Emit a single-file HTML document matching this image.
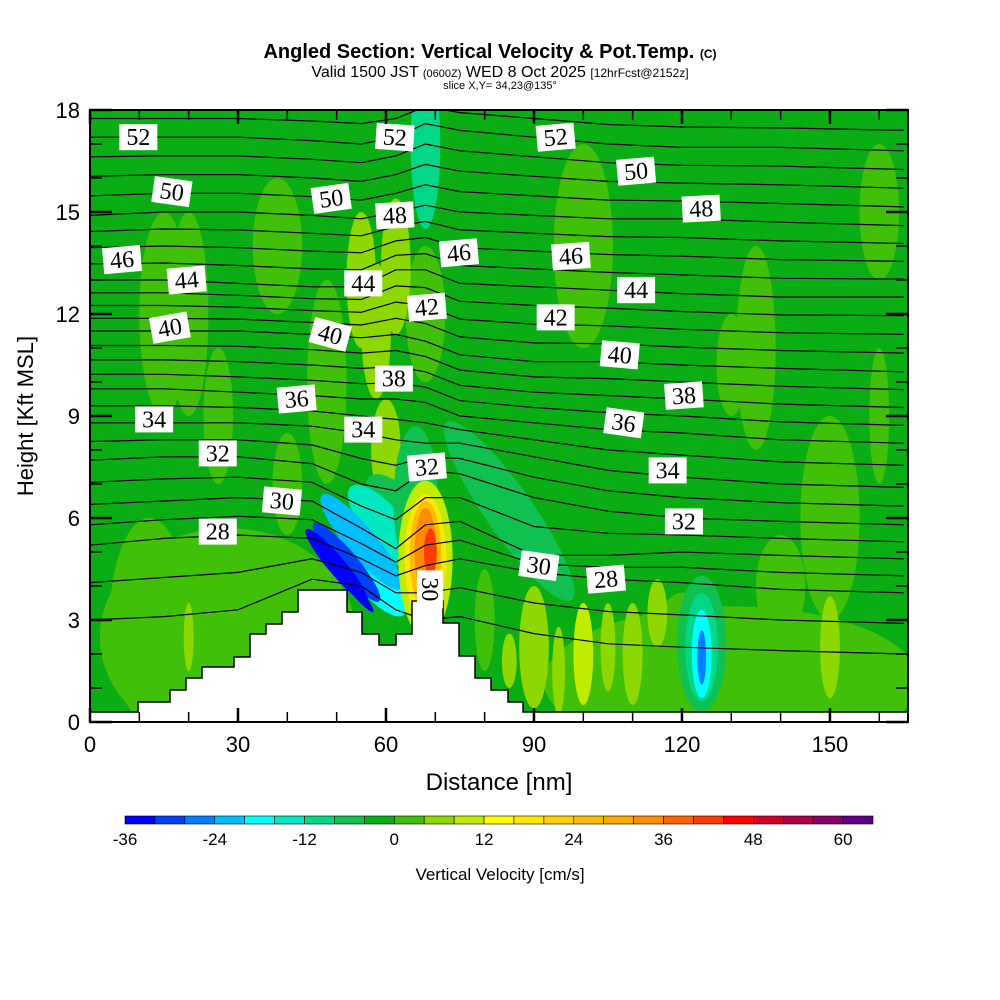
<!DOCTYPE html>
<html><head><meta charset="utf-8">
<style>
body{margin:0;background:#fff;}
svg{display:block;font-family:"Liberation Sans",sans-serif;}
.lbl{font-family:"Liberation Serif",serif;font-size:24px;}
</style></head>
<body>
<svg id="chart" width="1000" height="1000" viewBox="0 0 1000 1000" xmlns="http://www.w3.org/2000/svg">
  <text x="490" y="58" text-anchor="middle" font-size="20" font-weight="bold">Angled Section: Vertical Velocity &amp; Pot.Temp. <tspan font-size="12">(C)</tspan></text>
  <text x="500" y="77" text-anchor="middle" font-size="16">Valid 1500 JST <tspan font-size="11">(0600Z)</tspan> WED 8 Oct 2025 <tspan font-size="12">[12hrFcst@2152z]</tspan></text>
  <text x="500" y="89" text-anchor="middle" font-size="11">slice X,Y= 34,23@135°</text>
  <defs><clipPath id="pc"><rect x="90" y="110" width="818" height="612"/></clipPath></defs>
  <g id="field" clip-path="url(#pc)"></g>
  <g id="contours" clip-path="url(#pc)"></g>
  <g id="terrain"></g>
  <g id="clabels"></g>
  <rect x="90" y="110" width="818" height="612" fill="none" stroke="#000" stroke-width="2"/>
  <g id="axes"></g>
  <text x="499" y="790" text-anchor="middle" font-size="24">Distance [nm]</text>
  <text transform="translate(33,416) rotate(-90)" text-anchor="middle" font-size="22">Height [Kft MSL]</text>
  <g id="cbar"></g>
  <text x="500" y="880" text-anchor="middle" font-size="17">Vertical Velocity [cm/s]</text>
</svg>
<script>
const NS="http://www.w3.org/2000/svg";
// ---- data ----
const xTicks=[0,30,60,90,120,150];
const yTicks=[0,3,6,9,12,15,18];
const cbarValues=[-36,-32,-28,-24,-20,-16,-12,-8,-4,0,4,8,12,16,20,24,28,32,36,40,44,48,52,56,60,64];
const cbarTickLabels=[-36,-24,-12,0,12,24,36,48,60];
const cbarColors=["#0000ff","#0040ff","#0080ff","#00bfff","#00ffff","#00e8c0","#00d888","#10c050","#08b018","#40c008","#8cd800","#c0ec00","#ffff00","#ffe800","#ffd000","#ffbc00","#ffa800","#ff8c00","#ff6400","#ff3c00","#ff0000","#d80028","#b00048","#880068","#600088"];
const stations=[0,15,30,45,55,62,68,75,90,105,120,140,165];
const thetaLevels=[26,28,30,32,34,36,40,44,48,52,56];
const thetaHeights=[
 [3.0,3.1,3.3,4.2,4.0,3.3,3.0,3.1,2.6,2.3,2.2,2.1,2.0],
 [5.2,5.4,5.5,5.4,4.8,4.3,4.6,4.8,4.4,4.2,4.1,3.9,3.8],
 [6.4,6.5,6.6,6.5,5.7,5.1,5.8,5.9,4.9,4.9,5.0,4.9,4.8],
 [7.7,7.8,7.8,7.6,7.0,6.8,7.4,7.3,6.6,6.2,6.0,5.9,5.8],
 [8.8,8.8,8.8,8.7,8.5,8.3,8.2,8.2,7.8,7.4,7.2,7.0,6.9],
 [9.8,9.8,9.7,9.6,9.5,9.5,9.4,9.0,8.8,8.6,8.5,8.3,8.2],
 [11.5,11.5,11.5,11.4,11.3,11.4,11.2,10.8,10.6,10.6,10.5,10.4,10.3],
 [13.0,13.0,12.9,12.8,12.8,13.3,13.3,12.9,12.8,12.7,12.6,12.5,12.5],
 [14.9,15.0,15.0,14.9,14.8,15.0,15.2,15.0,14.9,14.8,14.8,14.7,14.6],
 [17.2,17.2,17.2,17.1,17.0,17.2,17.6,17.4,17.2,17.0,16.9,16.9,16.8],
 [19.4,19.4,19.4,19.4,19.4,19.4,19.6,19.5,19.4,19.3,19.3,19.2,19.2]];
// velocity blobs: distance, height, half-width (nm), half-height (kft), rotation deg, value (cm/s)
const blobDist=[28,130,12,20,32,38,26,48,55,68,90,100,110,135,150,160,60,68,20,85,120,105,95,85,62,60,57,66,55,52,50,53,68,68,68,68,69,124,124,124,124,115,80,90,58,62,130,160,40,150,15,100,140];
const blobHgt=[2.5,1.2,3,12,1.8,14,9,10,13,12,2.2,2,2,11,6,15,8,17,2.5,1.8,2,2.2,1.5,6.2,6.3,5.7,4.3,6.5,5.3,4.7,4.6,4,4.8,4.8,4.9,5.0,5.0,2.3,2.2,2.0,1.9,3.2,3.0,1.7,11.5,13.4,10.5,9,7,2.2,12,14,4];
const blobRx=[26,38,8,4,5,5,3,4,3,4,3,2,2,4,6,4,3,3,1,1.5,6,1.5,1.3,22,4,4,3.5,4.5,3,2.2,1.8,1.0,5.5,4.2,3.2,2.2,1.3,5,3.3,2.0,0.9,2,2,2,3,3,3,2,3,2,5,6,5];
const blobRy=[3.2,2.2,3,3,1.2,2,2,3,2,2,1.8,1.5,1.5,3,3,2,1.5,2.5,1,0.8,1.8,1.3,1.3,0.7,1.2,1.6,1.5,2.2,1.8,1.5,1.4,1.0,2.3,1.9,1.6,1.3,0.7,2.0,1.6,1.3,0.8,1,1.5,1.3,2,2,1.5,2,1.5,1.5,3,3,1.5];
const blobRot=[0,0,0,0,0,0,0,0,0,0,0,0,0,0,0,0,0,0,0,0,0,0,0,55,-40,-40,-40,0,-40,-40,-40,-40,0,0,0,0,0,0,0,0,0,0,0,0,0,0,0,0,0,0,0,0,0];
const blobVal=[2,2,2,2,2,2,2,2,6,2,6,9,6,2,2,2,6,-10,6,6,2,6,6,-8,-8,-14,-18,-8,-22,-30,-34,-38,10,18,26,34,41,-8,-12,-20,-26,6,2,6,6,6,2,2,2,6,2,2,2];
const clabVal=[52,52,52,50,50,50,48,48,46,46,46,44,44,44,42,42,40,40,40,38,38,36,36,34,34,34,32,32,32,30,30,30,28,28];
const clabDist=[9.8,61.8,94.4,16.6,48.9,110.7,61.8,123.9,6.5,74.8,97.5,19.6,55.4,110.7,68.3,94.4,16.2,48.7,107.4,61.6,120.4,41.9,108.2,13,55.4,117.1,25.9,68.3,120.4,38.9,91,68.9,25.9,104.6];
const clabHgt=[17.2,17.2,17.2,15.6,15.4,16.2,14.9,15.1,13.6,13.8,13.7,13.0,12.9,12.7,12.2,11.9,11.6,11.4,10.8,10.1,9.6,9.5,8.8,8.9,8.6,7.4,7.9,7.5,5.9,6.5,4.6,3.9,5.6,4.2];
const clabRot=[0,4,-5,8,-8,-5,-3,-3,-5,-5,-4,-5,0,0,-5,0,-10,15,5,0,-4,-5,8,0,0,0,0,-5,0,5,8,90,0,-5];
// ---- scales ----
const X=d=>90+d*4.933, Y=h=>722-h*34;
function el(tag,attrs,parent){const e=document.createElementNS(NS,tag);for(const k in attrs)e.setAttribute(k,attrs[k]);parent.appendChild(e);return e;}
function colorFor(v){let i=Math.floor((v-cbarValues[0])/4);i=Math.max(0,Math.min(cbarColors.length-1,i));return cbarColors[i];}
// field
const field=document.getElementById('field');
const bg=el('rect',{x:90,y:110,width:818,height:612,fill:"#0aae14"},field);


for(let i=0;i<blobDist.length;i++){
  const cx=X(blobDist[i]),cy=Y(blobHgt[i]);
  const b=el('ellipse',{cx:cx,cy:cy,rx:blobRx[i]*4.933,ry:blobRy[i]*34,fill:colorFor(blobVal[i]),transform:`rotate(${blobRot[i]} ${cx} ${cy})`},field);
  
  
}
// contours
const cg=document.getElementById('contours');
for(let t=26;t<=54;t++){
  let k=0;while(k<thetaLevels.length-2&&thetaLevels[k+1]<=t)k++;
  const f=(t-thetaLevels[k])/(thetaLevels[k+1]-thetaLevels[k]);
  const pts=stations.map((s,j)=>X(s).toFixed(1)+","+Y(thetaHeights[k][j]+f*(thetaHeights[k+1][j]-thetaHeights[k][j])).toFixed(1));
  const p=el('polyline',{points:pts.join(" "),fill:"none",stroke:"#000","stroke-width":1.2},cg);
  
  
}
// terrain (pixel outline of white ground)
const terrainPts=[[90,722],[90,712],[138,712],[138,702],[170,702],[170,690],[186,690],[186,678],[202,678],[202,667],[234,667],[234,657],[250,657],[250,634],[266,634],[266,624],[282,624],[282,612],[298,612],[298,590],[347,590],[347,612],[362,612],[362,634],[379,634],[379,645],[396,645],[396,634],[412,634],[412,601],[443,601],[443,623],[459,623],[459,656],[475,656],[475,678],[491,678],[491,690],[508,690],[508,702],[523,702],[523,712],[908,712],[908,722]];
const tg=document.getElementById('terrain');
const tp=el('polygon',{points:terrainPts.map(p=>p.join(",")).join(" "),fill:"#fff",stroke:"#000","stroke-width":1.5},tg);


// contour labels
const lg=document.getElementById('clabels');
for(let i=0;i<clabVal.length;i++){
  const cx=X(clabDist[i]),cy=Y(clabHgt[i]);
  const g=el('g',{transform:`translate(${cx},${cy}) rotate(${clabRot[i]})`},lg);
  
  
  el('rect',{x:-19,y:-13,width:38,height:26,fill:"#fff"},g);
  const t=el('text',{x:0,y:8,"text-anchor":"middle",class:"lbl"},g);t.textContent=clabVal[i];
}
// axes
const ax=document.getElementById('axes');
for(let d=0;d<=160;d+=10){
  const major=d%30===0,len=major?14:10;
  el('line',{x1:X(d),x2:X(d),y1:722,y2:722-len,stroke:"#000","stroke-width":major?2.5:1.5},ax);
  el('line',{x1:X(d),x2:X(d),y1:110,y2:110+len,stroke:"#000","stroke-width":major?2.5:1.5},ax);
}
for(let h=0;h<=18;h++){
  const major=h%3===0,len=major?22:12;
  el('line',{x1:90,x2:90+len,y1:Y(h),y2:Y(h),stroke:"#000","stroke-width":major?2.5:1.5},ax);
  el('line',{x1:908,x2:908-len,y1:Y(h),y2:Y(h),stroke:"#000","stroke-width":major?2.5:1.5},ax);
}
xTicks.forEach(v=>{const t=el('text',{x:X(v),y:752,"text-anchor":"middle","font-size":22},ax);t.textContent=v;
  
  });
yTicks.forEach(v=>{const t=el('text',{x:80,y:Y(v)+8,"text-anchor":"end","font-size":22},ax);t.textContent=v;
  
  });
// colorbar
const cb=document.getElementById('cbar');
const cx0=125,cx1=873,cw=(cx1-cx0)/cbarColors.length;
const cv=v=>cx0+(v-cbarValues[0])/4*cw;
cbarColors.forEach((c,i)=>{const r=el('rect',{x:cx0+i*cw,y:816,width:cw,height:8,fill:c,stroke:"#000","stroke-width":0.6},cb);
  
  });
cbarTickLabels.forEach(v=>{const t=el('text',{x:cv(v),y:845,"text-anchor":"middle","font-size":17},cb);t.textContent=v;
  
  });
</script>
</body></html>
